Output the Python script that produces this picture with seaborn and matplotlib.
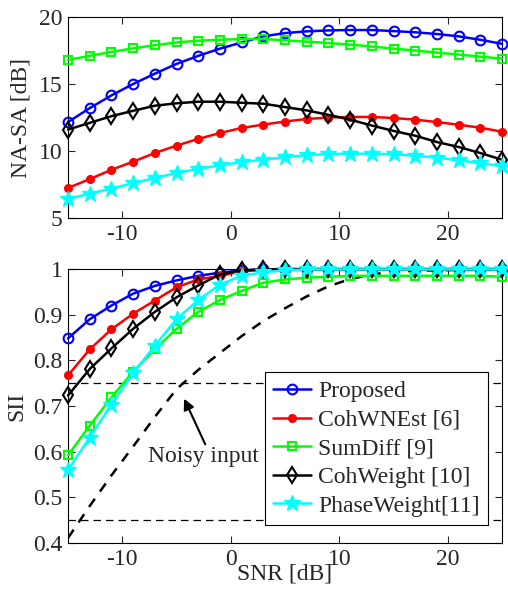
import numpy as np
import pandas as pd
import matplotlib
matplotlib.use('Agg')
import matplotlib.pyplot as plt
import seaborn as sns
from matplotlib.ticker import FuncFormatter

# ── Data ──────────────────────────────────────────────────────────
snr = list(range(-15, 26, 2))

methods = ['Proposed', 'CohWNEst [6]', 'SumDiff [9]', 'CohWeight [10]', 'PhaseWeight[11]']

nasa_proposed = [12.16, 13.2, 14.15, 15.0, 15.77, 16.5, 17.1, 17.64, 18.1, 18.56, 18.8,
                 18.93, 19.0, 19.03, 19.03, 18.95, 18.86, 18.73, 18.56, 18.3, 18.0]
nasa_cohwnest = [7.24, 7.9, 8.6, 9.2, 9.85, 10.4, 10.9, 11.34, 11.72, 11.97, 12.2,
                 12.39, 12.5, 12.54, 12.54, 12.46, 12.34, 12.16, 11.96, 11.74, 11.44]
nasa_sumdiff = [16.8, 17.1, 17.4, 17.66, 17.9, 18.1, 18.23, 18.3, 18.36, 18.36, 18.26,
                18.16, 18.06, 17.94, 17.8, 17.64, 17.5, 17.34, 17.2, 17.04, 16.9]
nasa_cohweight = [11.6, 12.1, 12.6, 13.0, 13.38, 13.56, 13.68, 13.68, 13.6, 13.53, 13.28,
                  13.03, 12.7, 12.34, 11.9, 11.5, 11.14, 10.67, 10.3, 9.85, 9.35]
nasa_phaseweight = [6.42, 6.82, 7.19, 7.6, 7.98, 8.36, 8.66, 8.93, 9.18, 9.35, 9.55,
                    9.68, 9.78, 9.8, 9.8, 9.75, 9.65, 9.5, 9.3, 9.1, 8.86]

sii_proposed = [0.848, 0.89, 0.92, 0.946, 0.963, 0.975, 0.985, 0.992, 0.997, 0.999, 1.0,
                1.0, 1.0, 1.0, 1.0, 1.0, 1.0, 1.0, 1.0, 1.0, 1.0]
sii_cohwnest = [0.767, 0.824, 0.868, 0.902, 0.931, 0.96, 0.977, 0.985, 0.995, 0.998, 0.999,
                0.999, 0.999, 0.999, 0.999, 0.999, 0.999, 0.999, 0.999, 0.999, 0.999]
sii_sumdiff = [0.592, 0.657, 0.719, 0.775, 0.824, 0.869, 0.906, 0.932, 0.952, 0.97, 0.977,
               0.981, 0.983, 0.985, 0.985, 0.985, 0.985, 0.985, 0.985, 0.985, 0.983]
sii_cohweight = [0.723, 0.781, 0.826, 0.869, 0.906, 0.938, 0.964, 0.988, 0.997, 0.999, 0.999,
                 0.999, 0.999, 0.999, 0.999, 0.999, 0.999, 0.999, 0.999, 0.999, 0.999]
sii_phaseweight = [0.56, 0.631, 0.703, 0.772, 0.832, 0.89, 0.932, 0.966, 0.985, 0.993, 0.997,
                   0.999, 0.999, 0.999, 0.999, 0.999, 0.999, 0.999, 0.999, 0.999, 0.999]
sii_noisy = [0.411, 0.481, 0.548, 0.611, 0.676, 0.737, 0.779, 0.816, 0.853, 0.886, 0.914,
             0.940, 0.962, 0.978, 0.988, 0.994, 0.996, 0.997, 0.998, 0.998, 0.998]

sii_refs = [0.75, 0.45]   # dashed reference levels

# ── Style ────────────────────────────────────────────────────────
sns.set_style('ticks')
plt.rcParams['font.family'] = ['Liberation Serif', 'DejaVu Serif']
plt.rcParams['axes.unicode_minus'] = False
FS = 17

styles = {
    'Proposed':        dict(color='#0000ff', marker='o', ms=7, mfc='none', mew=1.5),
    'CohWNEst [6]':    dict(color='#ff0000', marker='o', ms=5.5, mfc='#ff0000', mew=1.0),
    'SumDiff [9]':     dict(color='#00ff00', marker='s', ms=5.5, mfc='none', mew=1.5),
    'CohWeight [10]':  dict(color='#000000', marker='d', ms=8, mfc='none', mew=1.5),
    'PhaseWeight[11]': dict(color='#00ffff', marker='*', ms=12, mfc='#00ffff', mew=1.0),
}

nasa = pd.DataFrame({'SNR': snr, **dict(zip(methods, [nasa_proposed, nasa_cohwnest, nasa_sumdiff,
                                                       nasa_cohweight, nasa_phaseweight]))})
sii = pd.DataFrame({'SNR': snr, **dict(zip(methods, [sii_proposed, sii_cohwnest, sii_sumdiff,
                                                     sii_cohweight, sii_phaseweight])),
                    'Noisy input': sii_noisy})

fig = plt.figure(figsize=(5.08, 5.89), dpi=100)
ax1 = fig.add_axes([0.1339, 0.6299, 0.8543, 0.3412])
ax2 = fig.add_axes([0.1339, 0.0781, 0.8543, 0.4652])


def draw_series(ax, df):
    for m in methods:
        st = styles[m]
        sns.lineplot(data=df, x='SNR', y=m, ax=ax, color=st['color'], linewidth=1.8,
                     marker=st['marker'], markersize=st['ms'], markerfacecolor=st['mfc'],
                     markeredgecolor=st['color'], markeredgewidth=st['mew'],
                     label=m, legend=False, clip_on=False, zorder=3)


def style_axis(ax):
    ax.set_xlim(-15, 25)
    ax.set_xticks([-10, 0, 10, 20])
    ax.tick_params(direction='in', top=True, right=True, labelsize=FS, length=5, width=0.8, pad=4)
    for sp in ax.spines.values():
        sp.set_visible(True)
        sp.set_linewidth(0.8)
        sp.set_color('black')


# top: NA-SA
draw_series(ax1, nasa)
style_axis(ax1)
ax1.set_ylim(5, 20)
ax1.set_yticks([5, 10, 15, 20])
ax1.set_xlabel('')
ax1.set_ylabel('NA-SA [dB]', fontsize=FS, labelpad=5)

# bottom: SII
for lvl in sii_refs:
    ax2.axhline(lvl, color='black', linestyle=(0, (6, 4)), linewidth=0.9, zorder=1)
sns.lineplot(data=sii, x='SNR', y='Noisy input', ax=ax2, color='black',
             linestyle=(0, (4, 3.5)), linewidth=1.8, legend=False, zorder=2)
draw_series(ax2, sii)
style_axis(ax2)
ax2.set_ylim(0.4, 1.0)
ax2.set_yticks(np.arange(0.4, 1.01, 0.1))
ax2.yaxis.set_major_formatter(FuncFormatter(lambda v, _: '1' if abs(v - 1) < 1e-6 else f'{v:.1f}'))
ax2.set_xlabel('SNR [dB]', fontsize=FS, labelpad=-4)
ax2.set_ylabel('SII', fontsize=FS, labelpad=4)

ax2.text(-2.5, 0.59, 'Noisy input', ha='center', va='center', fontsize=FS)
ax2.annotate('', xy=(-4.3, 0.716), xytext=(-2.35, 0.616),
             arrowprops=dict(arrowstyle='-|>', color='black', lw=1.5,
                             mutation_scale=16, shrinkA=0, shrinkB=0))

leg = ax2.legend(loc='lower right', bbox_to_anchor=(0.968, 0.066), fontsize=FS,
                 frameon=True, fancybox=False, edgecolor='black', framealpha=1,
                 handlelength=1.6, handletextpad=0.3, borderpad=0.35, labelspacing=0.3,
                 borderaxespad=0)
leg.get_frame().set_linewidth(0.8)

plt.savefig('out.png', dpi=100)
